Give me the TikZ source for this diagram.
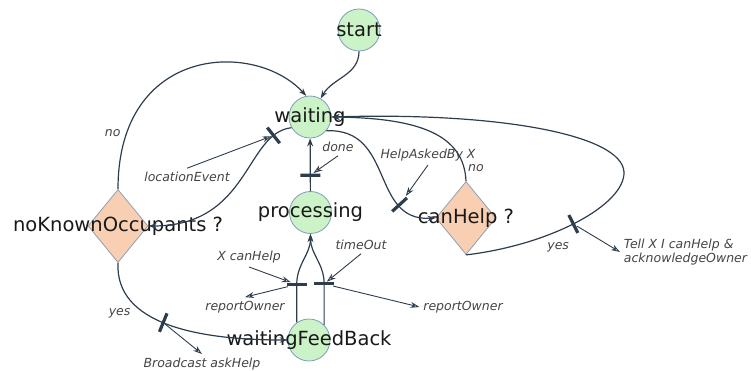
\documentclass[tikz,border=0pt]{standalone}
\usepackage{fontspec}
\setmainfont{DejaVu Sans}
\usetikzlibrary{shapes.geometric,arrows.meta}

\definecolor{stfill}{HTML}{CCF2C8}
\definecolor{stline}{HTML}{7F9CBD}
\definecolor{chfill}{HTML}{F8CFB3}
\definecolor{chline}{HTML}{8E9FB3}
\definecolor{edgecol}{HTML}{2E3D4E}
\definecolor{labelgray}{HTML}{444444}

\begin{document}
\begin{tikzpicture}[x=1pt, y=1pt,
    >={Stealth[length=8pt,width=5.5pt]},
    color=edgecol, line width=1.2pt,
    stnode/.style={circle, draw=stline, line width=0.8pt, fill=stfill,
        minimum size=42pt, inner sep=0pt,
        label={[font=\fontsize{19.5}{21}\selectfont, text=black!90]center:#1}},
    chnode/.style={diamond, draw=chline, line width=0.8pt, fill=chfill,
        minimum width=60pt, minimum height=73pt, inner sep=0pt,
        label={[font=\fontsize{19.5}{21}\selectfont, text=black!90]center:#1}},
    trbar/.style={fill=edgecol, draw=none, inner sep=0pt,
        minimum width=3.2pt, minimum height=20pt, sloped},
    evt/.style={font=\fontsize{12.5}{14.5}\selectfont\itshape, text=labelgray},
    evtarrow/.style={line width=0.9pt, -{Stealth[open,length=9pt,width=6pt]}},
    actarrow/.style={line width=0.9pt, -{Stealth[open,length=9pt,width=6pt]}}]
    \useasboundingbox (0,0) rectangle (751,-371);

    \node[stnode=start] (start) at (359,-30) {};
    \node[stnode=waiting] (waiting) at (310,-117) {};
    \node[stnode=processing] (proc) at (310.5,-212.5) {};
    \node[stnode=waitingFeedBack] (fb) at (309,-340) {};
    \node[chnode=noKnownOccupants ?] (nko) at (118,-226) {};
    \node[chnode=canHelp ?] (ch) at (466,-218) {};

    \node[evt] (locEv) at (187,-177) {locationEvent};
    \node[evt] (doneEv) at (338,-147) {done};
    \node[evt] (helpEv) at (428,-155) {HelpAskedBy X};
    \node[evt] (canEv) at (249,-257) {X canHelp};
    \node[evt] (toEv) at (361,-245) {timeOut};
    \node[evt] (bcAct) at (202,-364) {Broadcast askHelp};
    \node[evt] (repL) at (245,-307) {reportOwner};
    \node[evt] (repR) at (463,-307) {reportOwner};
    \node[evt, align=left, anchor=west] (tellAct) at (620,-252) {Tell X I canHelp \&\\acknowledgeOwner};

    \draw[->] (start) to[out=-90, in=60] (waiting);
    \draw[->] (nko.north) .. controls (118,-45) and (255,-40) .. (waiting.100)
        node[evt, pos=0.15, left=2pt] {no};
    \draw[->] (waiting.210) .. controls (245,-133) and (250,-226) .. (nko.east)
        node[trbar, pos=0.15] (tLoc) {};
    \draw[-{Stealth[open,length=8pt,width=6pt]}] (proc) -- (waiting)
        node[trbar, pos=0.3] (tDone) {};
    \draw[->] (waiting.-40) .. controls (395,-128) and (370,-222) .. (ch.west)
        node[trbar, pos=0.74] (tHelp) {};
    \draw[->] (ch.north) .. controls (464,-135) and (420,-118) .. (waiting.east)
        node[evt, pos=0.1, right] {no};
    \draw[->] (ch.south) .. controls (550,-245) and (625,-205) .. (624,-172)
        node[trbar, pos=0.48] (tTell) {}
        node[evt, pos=0.4, below=8pt] {yes}
        .. controls (622,-135) and (500,-112) .. (waiting.east);
    \draw[->] (nko.south) .. controls (115,-325) and (200,-340) .. (fb.west)
        node[trbar, pos=0.47] (tBc) {}
        node[evt, pos=0.28, below left] {yes};
    \draw[->] (fb.125) -- ++(0,38) node[trbar, pos=1] (tCan) {}
        to[out=90, in=-90] (proc.south);
    \draw[->] (fb.45) -- ++(0,41) node[trbar, pos=1] (tTo) {}
        to[out=90, in=-90] (proc.south);

    \draw[evtarrow] (locEv.north) -- (tLoc);
    \draw[evtarrow] (doneEv.south) -- (tDone);
    \draw[evtarrow] (helpEv.south) -- (tHelp);
    \draw[evtarrow] (canEv.south) -- (tCan);
    \draw[evtarrow] (toEv.south) -- (tTo);
    \draw[actarrow] (tTell) -- (tellAct.west);
    \draw[actarrow] (tBc) -- (bcAct.north);
    \draw[actarrow] (tCan) -- (repL.north);
    \draw[actarrow] (tTo) -- (repR.west);
\end{tikzpicture}
\end{document}
